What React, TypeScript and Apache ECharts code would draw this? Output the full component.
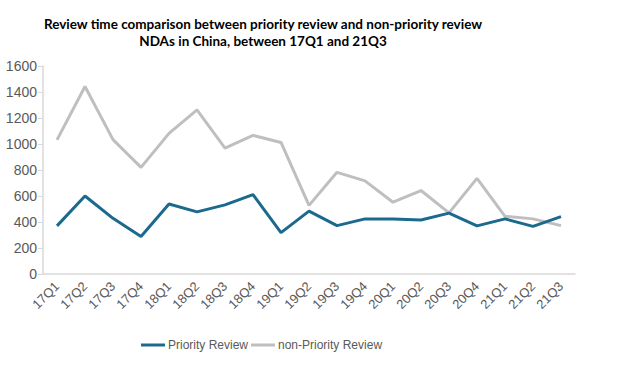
import React, { useEffect, useRef } from "react";
import * as echarts from "echarts";

const categories = ["17Q1","17Q2","17Q3","17Q4","18Q1","18Q2","18Q3","18Q4","19Q1","19Q2","19Q3","19Q4","20Q1","20Q2","20Q3","20Q4","21Q1","21Q2","21Q3"];
const priorityReview = [370, 600, 428, 288, 538, 478, 532, 610, 318, 484, 372, 424, 424, 416, 468, 370, 424, 366, 442];
const nonPriorityReview = [1032, 1442, 1034, 820, 1082, 1262, 968, 1066, 1012, 528, 782, 716, 552, 642, 470, 736, 444, 424, 372];
const yTicks = { min: 0, max: 1600, interval: 200 };

export default function App() {
  const ref = useRef<HTMLDivElement>(null);
  useEffect(() => {
    const chart = echarts.init(ref.current!, null, { renderer: "svg" });
    chart.setOption({
      animation: false,
      backgroundColor: "#ffffff",
      title: {
        text: "Review time comparison between priority review and non-priority review\nNDAs in China, between 17Q1 and 21Q3",
        left: 258,
        top: 10,
        textAlign: "center",
        textStyle: { fontFamily: "Lato", fontWeight: "bold", fontSize: 13.5, color: "#000", lineHeight: 17 },
      },
      grid: { left: 43, right: 46, top: 66, bottom: 109, containLabel: false },
      legend: {
        data: ["Priority Review", "non-Priority Review"],
        left: 136,
        top: 334,
        icon: "rect",
        itemWidth: 24,
        itemHeight: 3,
        itemGap: 3,
        textStyle: { color: "#595959", fontSize: 12, fontFamily: "Liberation Sans", padding: [0, 0, 0, -2] },
      },
      xAxis: {
        type: "category",
        data: categories,
        boundaryGap: true,
        axisLine: { lineStyle: { color: "#D9D9D9", width: 1.5 } },
        axisTick: { show: false },
        axisLabel: { rotate: 45, color: "#595959", fontSize: 13, fontFamily: "Liberation Sans", margin: 10, interval: 0 },
      },
      yAxis: {
        type: "value",
        min: yTicks.min,
        max: yTicks.max,
        interval: yTicks.interval,
        axisLine: { show: true, lineStyle: { color: "#D9D9D9", width: 1.5 } },
        axisTick: { show: true, length: 5, lineStyle: { color: "#D9D9D9" } },
        splitLine: { show: false },
        axisLabel: { color: "#595959", fontSize: 14, fontFamily: "Liberation Sans", margin: 6, formatter: (v: number) => String(v) },
      },
      series: [
        {
          name: "Priority Review",
          type: "line",
          data: priorityReview,
          symbol: "none",
          lineStyle: { color: "#1B6A8E", width: 3 },
          itemStyle: { color: "#1B6A8E" },
        },
        {
          name: "non-Priority Review",
          type: "line",
          data: nonPriorityReview,
          symbol: "none",
          lineStyle: { color: "#BFBFBF", width: 3 },
          itemStyle: { color: "#BFBFBF" },
          z: 1,
        },
      ],
    });
    return () => chart.dispose();
  }, []);
  return <div ref={ref} style={{ width: 621, height: 383, position: "fixed", left: 0, top: 0 }} />;
}
